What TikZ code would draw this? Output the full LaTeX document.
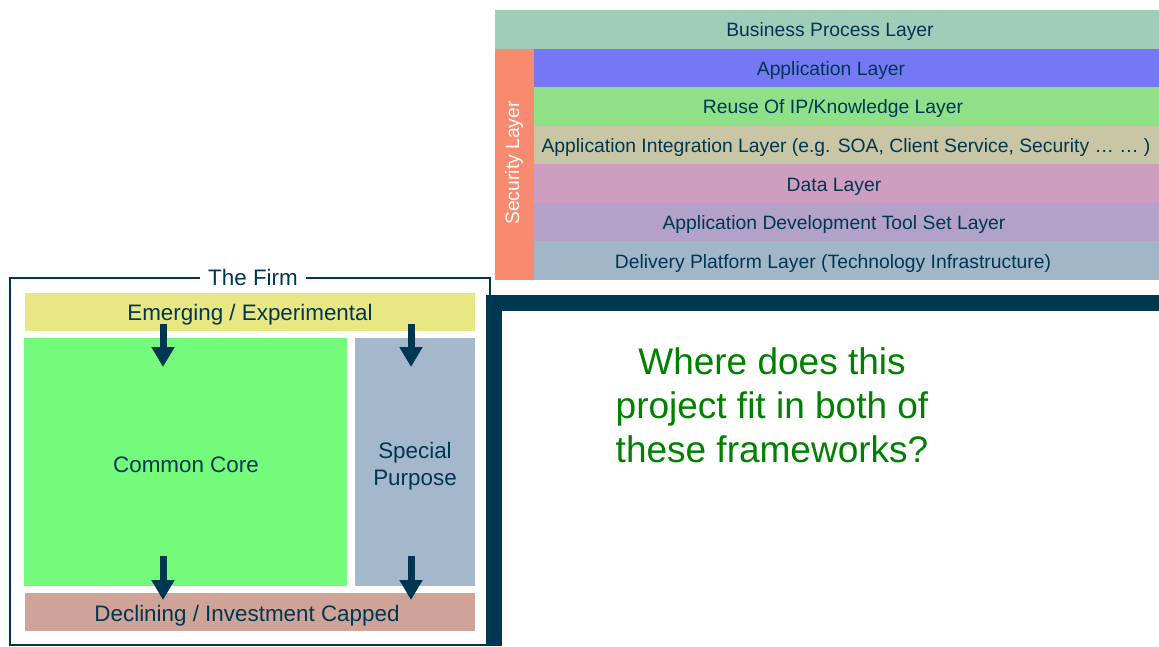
\documentclass[tikz,border=0pt]{standalone}
\usepackage{fontspec}
\setmainfont{Liberation Sans}
\usetikzlibrary{arrows.meta}

\definecolor{navytxt}{RGB}{0,55,80}
\definecolor{bizgreen}{RGB}{160,204,186}
\definecolor{secsalmon}{RGB}{248,138,111}
\definecolor{appblue}{RGB}{116,120,245}
\definecolor{reusegreen}{RGB}{144,224,138}
\definecolor{integtan}{RGB}{201,198,166}
\definecolor{datapink}{RGB}{206,158,192}
\definecolor{toolviolet}{RGB}{178,162,200}
\definecolor{delivgrey}{RGB}{162,182,202}
\definecolor{emergyellow}{RGB}{232,231,132}
\definecolor{coregreen}{RGB}{117,251,123}
\definecolor{specgrey}{RGB}{164,183,204}
\definecolor{declrose}{RGB}{208,163,152}
\definecolor{askgreen}{RGB}{0,128,0}

\tikzset{every picture/.style={line width=0.75pt}}
\tikzset{
  box/.style={draw=none,inner sep=0pt,outer sep=0pt,anchor=north west},
  layertxt/.style={text=navytxt,font=\fontsize{14.5}{17}\selectfont,inner sep=0pt},
  firmtxt/.style={text=navytxt,font=\fontsize{16.8}{20}\selectfont,align=center,inner sep=0pt},
  flowarrow/.style={draw=navytxt,line width=5.25pt,-{Triangle[width=16.5pt,length=15pt]}},
}

\begin{document}
\begin{tikzpicture}[x=0.75pt,y=0.75pt,yscale=-1,xscale=1]
\useasboundingbox (0,0) rectangle (1159,646);

%Layer stack
\node[box,fill=bizgreen,minimum width=498pt,minimum height=28.875pt] (biz) at (495,10) {};
\node[box,fill=secsalmon,minimum width=29.25pt,minimum height=173.625pt] (sec) at (495,48.5) {};
\node[box,fill=appblue,minimum width=468.75pt,minimum height=28.94pt] (app) at (534,48.5) {};
\node[box,fill=reusegreen,minimum width=468.75pt,minimum height=28.94pt] (reuse) at (534,87.08) {};
\node[box,fill=integtan,minimum width=468.75pt,minimum height=28.94pt] (integ) at (534,125.67) {};
\node[box,fill=datapink,minimum width=468.75pt,minimum height=28.94pt] (data) at (534,164.25) {};
\node[box,fill=toolviolet,minimum width=468.75pt,minimum height=28.94pt] (tool) at (534,202.83) {};
\node[box,fill=delivgrey,minimum width=468.75pt,minimum height=28.94pt] (deliv) at (534,241.42) {};

% Text Node
\node[layertxt] (bizlbl) at (830,31.5) {Business Process Layer};
\node[layertxt,text=white,rotate=90] (seclbl) at (514,163) {Security Layer};
\node[layertxt] (applbl) at (831,70.5) {Application Layer};
\node[layertxt] (reuselbl) at (833,108.5) {Reuse Of IP/Knowledge Layer};
\node[layertxt] (integlbl) at (846,147.5) {Application Integration Layer (e.g. SOA, Client Service, Security … … )};
\node[layertxt] (datalbl) at (834,186.5) {Data Layer};
\node[layertxt] (toollbl) at (834,224.5) {Application Development Tool Set Layer};
\node[layertxt] (delivlbl) at (833,263.5) {Delivery Platform Layer (Technology Infrastructure)};

%The Firm frame
\draw[draw=navytxt,line width=1.1pt] (10,278) rectangle (490,645);
\node[firmtxt,fill=white,inner xsep=6pt,inner ysep=1pt] (firm) at (253,277) {The Firm};

\node[box,fill=emergyellow,minimum width=337.5pt,minimum height=28.5pt] (emerg) at (25,293) {};
\node[box,fill=coregreen,minimum width=242.25pt,minimum height=186pt] (core) at (24,338) {};
\node[box,fill=specgrey,minimum width=90pt,minimum height=186pt] (spec) at (355,338) {};
\node[box,fill=declrose,minimum width=337.5pt,minimum height=28.5pt] (decl) at (25,593) {};

% Text Node
\node[firmtxt] (emerglbl) at (250,315) {Emerging / Experimental};
\node[firmtxt] (corelbl) at (186,465) {Common Core};
\node[firmtxt] (speclbl) at (415,466) {Special\\Purpose};
\node[firmtxt] (decllbl) at (247,616) {Declining / Investment Capped};

%Arrows
\coordinate (a1) at (163,324);
\coordinate (b1) at (163,367);
\coordinate (a2) at (411,324);
\coordinate (b2) at (411,367);
\coordinate (c1) at (163,556);
\coordinate (d1) at (163,600);
\coordinate (c2) at (411,556);
\coordinate (d2) at (411,600);
\draw[flowarrow] (a1) -- (b1);
\draw[flowarrow] (a2) -- (b2);
\draw[flowarrow] (c1) -- (d1);
\draw[flowarrow] (c2) -- (d2);

%Thick frame
\draw[draw=navytxt,line width=12pt] (494,646) -- (494,303) -- (1159,303);

% Text Node
\node[text=askgreen,font=\fontsize{27.75}{33}\selectfont,align=center,inner sep=0pt] (ask) at (772,405) {Where does this\\project fit in both of\\these frameworks?};

\end{tikzpicture}
\end{document}
